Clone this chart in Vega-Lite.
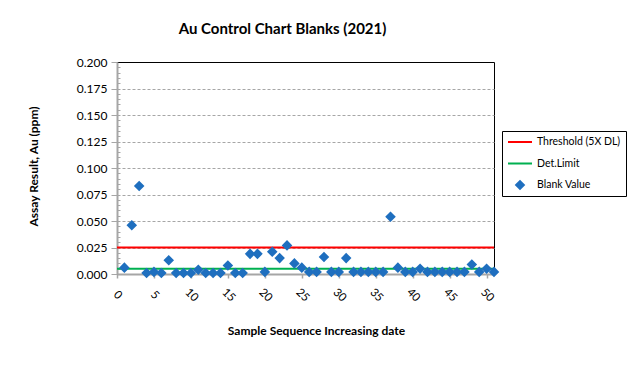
{
  "$schema": "https://vega.github.io/schema/vega-lite/v6.json",
  "autosize": "none",
  "width": 377,
  "height": 212,
  "padding": {"left": 117, "top": 62, "right": 135, "bottom": 94},
  "background": "white",
  "config": {
    "font": "Lato",
    "view": {"stroke": "black", "strokeWidth": 1}
  },
  "title": {
    "text": "Au Control Chart Blanks (2021)",
    "fontSize": 15,
    "fontWeight": "bold",
    "color": "#000000",
    "anchor": "middle",
    "dx": -23,
    "offset": 19
  },
  "datasets": {
    "blanks": [
      {"seq": 1, "value": 0.006, "series": "Blank Value"},
      {"seq": 2, "value": 0.046, "series": "Blank Value"},
      {"seq": 3, "value": 0.083, "series": "Blank Value"},
      {"seq": 4, "value": 0.001, "series": "Blank Value"},
      {"seq": 5, "value": 0.002, "series": "Blank Value"},
      {"seq": 6, "value": 0.001, "series": "Blank Value"},
      {"seq": 7, "value": 0.013, "series": "Blank Value"},
      {"seq": 8, "value": 0.001, "series": "Blank Value"},
      {"seq": 9, "value": 0.001, "series": "Blank Value"},
      {"seq": 10, "value": 0.001, "series": "Blank Value"},
      {"seq": 11, "value": 0.004, "series": "Blank Value"},
      {"seq": 12, "value": 0.001, "series": "Blank Value"},
      {"seq": 13, "value": 0.001, "series": "Blank Value"},
      {"seq": 14, "value": 0.001, "series": "Blank Value"},
      {"seq": 15, "value": 0.008, "series": "Blank Value"},
      {"seq": 16, "value": 0.001, "series": "Blank Value"},
      {"seq": 17, "value": 0.001, "series": "Blank Value"},
      {"seq": 18, "value": 0.019, "series": "Blank Value"},
      {"seq": 19, "value": 0.019, "series": "Blank Value"},
      {"seq": 20, "value": 0.002, "series": "Blank Value"},
      {"seq": 21, "value": 0.021, "series": "Blank Value"},
      {"seq": 22, "value": 0.015, "series": "Blank Value"},
      {"seq": 23, "value": 0.027, "series": "Blank Value"},
      {"seq": 24, "value": 0.010, "series": "Blank Value"},
      {"seq": 25, "value": 0.006, "series": "Blank Value"},
      {"seq": 26, "value": 0.002, "series": "Blank Value"},
      {"seq": 27, "value": 0.002, "series": "Blank Value"},
      {"seq": 28, "value": 0.016, "series": "Blank Value"},
      {"seq": 29, "value": 0.002, "series": "Blank Value"},
      {"seq": 30, "value": 0.002, "series": "Blank Value"},
      {"seq": 31, "value": 0.015, "series": "Blank Value"},
      {"seq": 32, "value": 0.002, "series": "Blank Value"},
      {"seq": 33, "value": 0.002, "series": "Blank Value"},
      {"seq": 34, "value": 0.002, "series": "Blank Value"},
      {"seq": 35, "value": 0.002, "series": "Blank Value"},
      {"seq": 36, "value": 0.002, "series": "Blank Value"},
      {"seq": 37, "value": 0.054, "series": "Blank Value"},
      {"seq": 38, "value": 0.006, "series": "Blank Value"},
      {"seq": 39, "value": 0.002, "series": "Blank Value"},
      {"seq": 40, "value": 0.002, "series": "Blank Value"},
      {"seq": 41, "value": 0.005, "series": "Blank Value"},
      {"seq": 42, "value": 0.002, "series": "Blank Value"},
      {"seq": 43, "value": 0.002, "series": "Blank Value"},
      {"seq": 44, "value": 0.002, "series": "Blank Value"},
      {"seq": 45, "value": 0.002, "series": "Blank Value"},
      {"seq": 46, "value": 0.002, "series": "Blank Value"},
      {"seq": 47, "value": 0.002, "series": "Blank Value"},
      {"seq": 48, "value": 0.009, "series": "Blank Value"},
      {"seq": 49, "value": 0.002, "series": "Blank Value"},
      {"seq": 50, "value": 0.005, "series": "Blank Value"},
      {"seq": 51, "value": 0.002, "series": "Blank Value"}
    ],
    "limits": [
      {"series": "Threshold (5X DL)", "value": 0.025},
      {"series": "Det.Limit", "value": 0.005}
    ]
  },
  "encoding": {
    "y": {
      "field": "value",
      "type": "quantitative",
      "scale": {"domain": [0, 0.2], "nice": false},
      "axis": {
        "title": "Assay Result, Au (ppm)",
        "titleFontSize": 12,
        "titleFontWeight": "bold",
        "titleColor": "#000000",
        "titleAngle": -90,
        "titleBaseline": "middle",
        "titleX": -84,
        "titleY": 104,
        "values": [0, 0.005, 0.01, 0.015, 0.02, 0.025, 0.03, 0.035, 0.04, 0.045, 0.05, 0.055, 0.06, 0.065, 0.07, 0.075, 0.08, 0.085, 0.09, 0.095, 0.1, 0.105, 0.11, 0.115, 0.12, 0.125, 0.13, 0.135, 0.14, 0.145, 0.15, 0.155, 0.16, 0.165, 0.17, 0.175, 0.18, 0.185, 0.19, 0.195, 0.2],
        "labelExpr": "round(datum.value*1000) % 25 === 0 ? format(datum.value, '.3f') : ''",
        "labelOverlap": false,
        "labelFontSize": 12,
        "labelColor": "#000000",
        "labelPadding": 4,
        "grid": true,
        "gridColor": "#a6a6a6",
        "gridDash": [3, 2],
        "gridWidth": 1,
        "gridOpacity": {"condition": {"test": "round(datum.value*1000) % 25 === 0 && datum.value > 0 && datum.value < 0.2", "value": 1}, "value": 0},
        "domainColor": "#a6a6a6",
        "domainWidth": 2,
        "tickColor": "#a6a6a6",
        "tickSize": {"condition": {"test": "round(datum.value*1000) % 25 === 0", "value": 6}, "value": -3},
        "tickWidth": 1
      }
    },
    "color": {
      "field": "series",
      "type": "nominal",
      "scale": {
        "domain": ["Threshold (5X DL)", "Det.Limit", "Blank Value"],
        "range": ["#ff0000", "#00b050", "#1f6fbf"]
      },
      "legend": {
        "title": null,
        "orient": "none",
        "legendX": 385,
        "legendY": 69,
        "direction": "vertical",
        "padding": 5,
        "strokeColor": "#000000",
        "fillColor": "#ffffff",
        "labelFontSize": 10.5,
        "labelColor": "#000000",
        "labelOffset": 4,
        "clipHeight": 12,
        "rowPadding": 9.5,
        "symbolStrokeWidth": 2
      }
    }
  },
  "layer": [
    {
      "data": {"name": "limits"},
      "mark": {"type": "rule", "strokeWidth": 2}
    },
    {
      "data": {"name": "blanks"},
      "mark": {"type": "point", "filled": true, "opacity": 1},
      "encoding": {
        "x": {
          "field": "seq",
          "type": "quantitative",
          "scale": {"domain": [0, 51], "nice": false, "zero": false},
          "axis": {
            "title": "Sample Sequence Increasing date",
            "titleFontSize": 12,
            "titleFontWeight": "bold",
            "titleColor": "#000000",
            "titleBaseline": "middle",
            "titleX": 199,
            "titleY": 56,
            "values": [0, 5, 10, 15, 20, 25, 30, 35, 40, 45, 50],
            "labelAngle": 45,
            "labelAlign": "center",
            "labelBaseline": "middle",
            "labelFontSize": 11.5,
            "labelColor": "#000000",
            "labelPadding": 17,
            "labelOverlap": false,
            "grid": false,
            "domainColor": "#a6a6a6",
            "domainWidth": 2,
            "tickColor": "#a6a6a6",
            "tickSize": 4,
            "tickWidth": 1.5
          }
        },
        "stroke": {
          "field": "series",
          "type": "nominal",
          "scale": {
            "domain": ["Threshold (5X DL)", "Det.Limit", "Blank Value"],
            "range": ["#ff0000", "#00b050", "#1f6fbf"]
          }
        },
        "shape": {
          "field": "series",
          "type": "nominal",
          "scale": {
            "domain": ["Threshold (5X DL)", "Det.Limit", "Blank Value"],
            "range": ["stroke", "stroke", "diamond"]
          }
        },
        "size": {
          "field": "series",
          "type": "nominal",
          "scale": {
            "type": "ordinal",
            "domain": ["Threshold (5X DL)", "Det.Limit", "Blank Value"],
            "range": [576, 576, 60]
          }
        }
      }
    }
  ]
}
